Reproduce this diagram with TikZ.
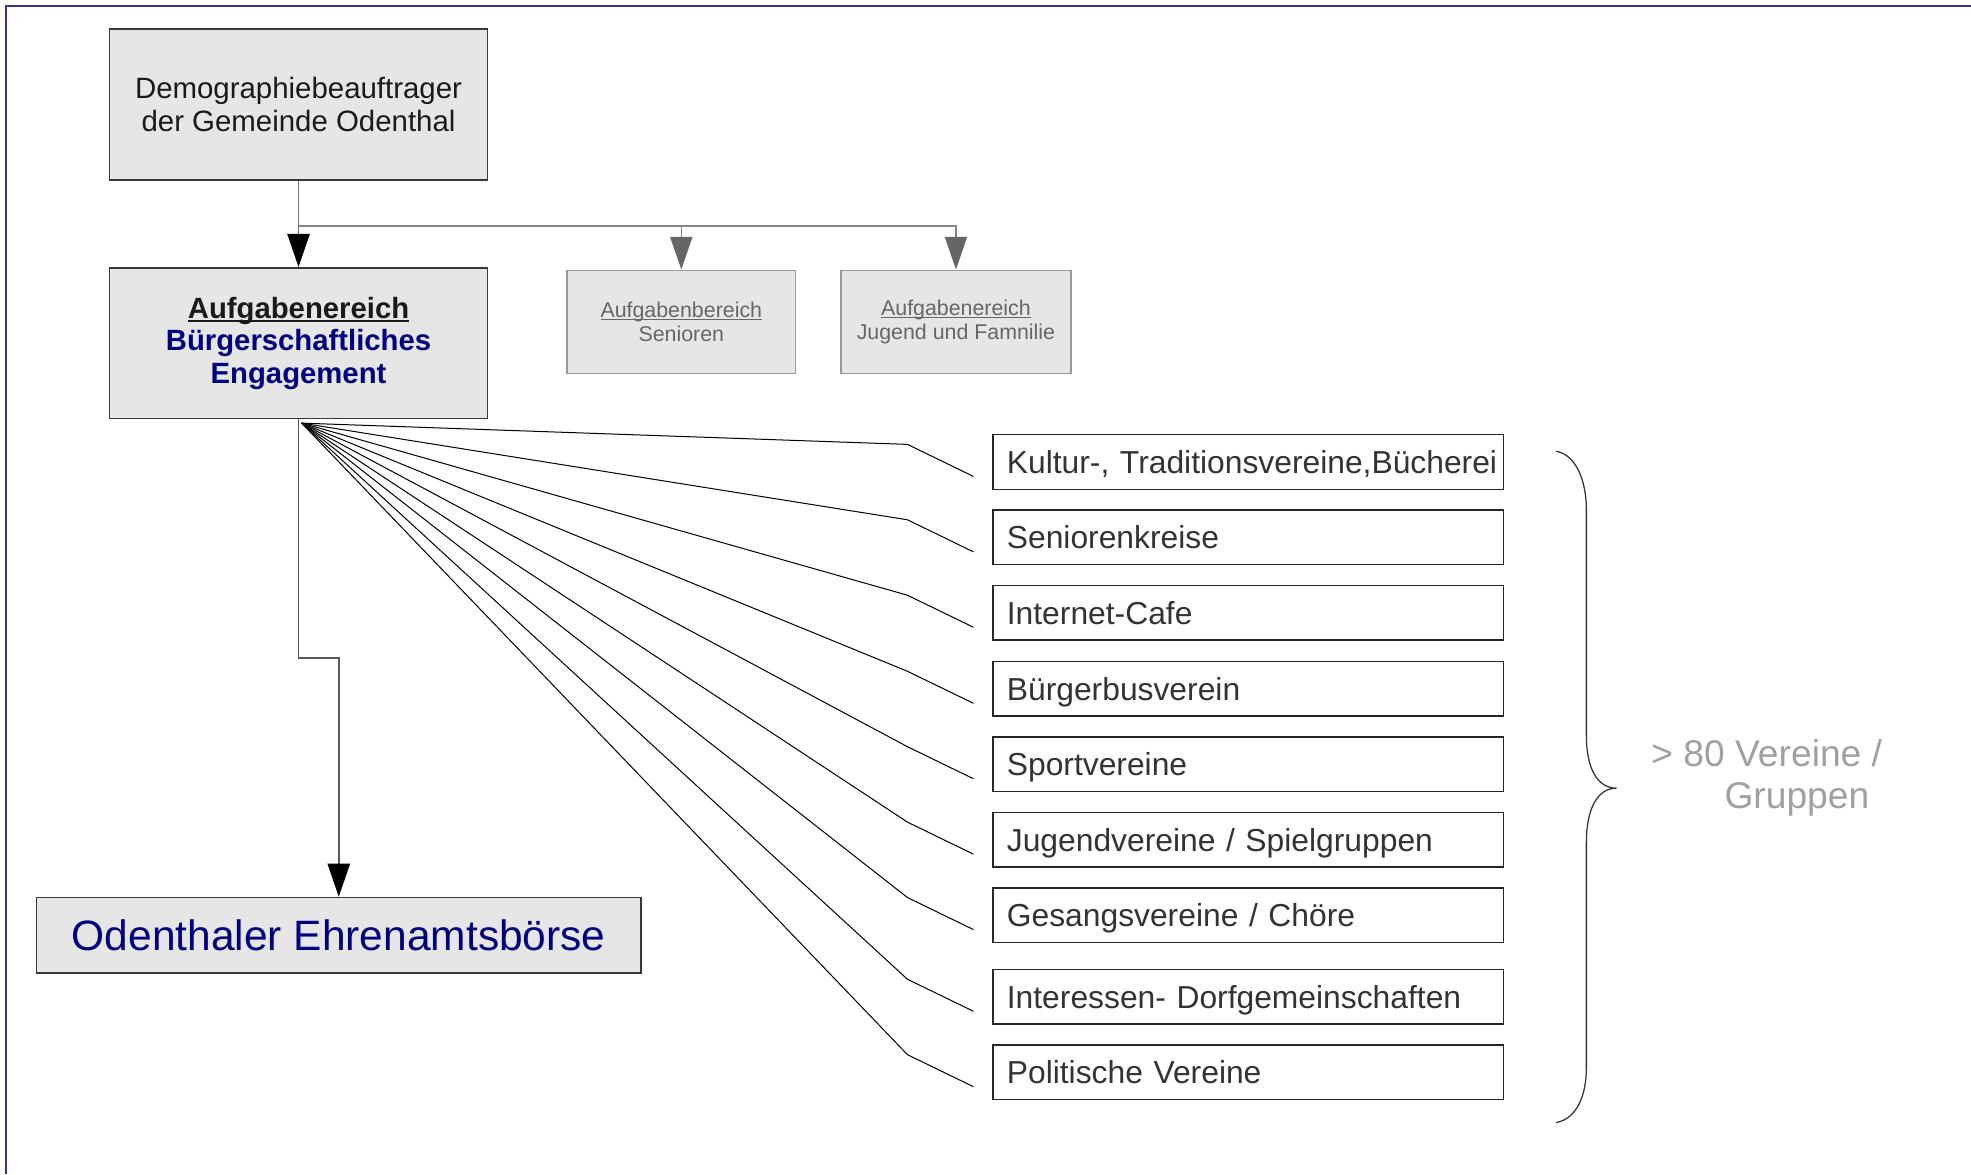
\documentclass[tikz,border=0pt]{standalone}
\usepackage{fontspec}
\setmainfont{Liberation Sans}
\usetikzlibrary{arrows.meta,calc}
\definecolor{framec}{HTML}{3535A0}
\definecolor{boxfill}{HTML}{E6E6E6}
\definecolor{navytext}{HTML}{000080}
\definecolor{darktext}{HTML}{1A1A1A}
\definecolor{itemtext}{HTML}{333333}
\definecolor{subtext}{HTML}{666666}
\definecolor{lbltext}{HTML}{A0A0A0}
\newcommand{\myul}[1]{\setbox0\hbox{#1}\rlap{\copy0}\rule[-0.13em]{\wd0}{0.065em}}
\tikzset{
  mainbox/.style={draw=black!78, fill=boxfill, line width=0.6pt, minimum width=150.5pt, minimum height=60pt, inner sep=0pt, align=center},
  subbox/.style={draw=black!40, fill=boxfill, line width=0.6pt, minimum width=91pt, minimum height=41pt, inner sep=0pt, align=center, text=subtext, font=\fontsize{8.5pt}{9.5pt}\selectfont},
  itembox/.style={draw=black!85, line width=0.6pt, minimum width=203pt, minimum height=21.75pt, text width=192pt, inner xsep=5.5pt, inner ysep=0pt, align=left, text=itemtext, font=\fontsize{12.65pt}{15pt}\selectfont, text height=9.06pt, text depth=0pt},
  bigbox/.style={draw=black!78, fill=boxfill, line width=0.6pt, minimum width=240.5pt, minimum height=30pt, inner sep=0pt, text=navytext, font=\fontsize{16.9pt}{20pt}\selectfont, text height=12.1pt, text depth=0pt},
  lbl/.style={text=lbltext, font=\fontsize{14.8pt}{17pt}\selectfont, inner sep=0pt, anchor=base},
  conn/.style={draw=black!55, line width=0.6pt, -{Triangle[width=8.9pt,length=13.2pt,color=black]}},
  branch/.style={draw=black!48, line width=0.6pt, -{Triangle[width=8.8pt,length=13pt,color=black!60]}},
  fanline/.style={draw=black, line width=0.4pt},
  bracec/.style={draw=black!80, line width=0.5pt}
}
\begin{document}
\begin{tikzpicture}[x=0.5pt,y=-0.5pt]
\useasboundingbox (0,0) rectangle (1568,934);
\draw[framec, line width=0.8pt] (4.8,934) -- (4.8,4.4) -- (1568,4.4);

\node[mainbox, text=darktext, font=\fontsize{11.7pt}{13pt}\selectfont] (b1) at (237.5,83) {Demographiebeauftrager\\der Gemeinde Odenthal};
\node[mainbox, text=darktext, font=\bfseries\fontsize{11.65pt}{13pt}\selectfont] (b2) at (237.5,273) {\myul{Aufgabenereich}\\\textcolor{navytext}{Bürgerschaftliches}\\\textcolor{navytext}{Engagement}};
\node[subbox] (b3) at (542,256) {\myul{Aufgabenbereich}\\Senioren};
\node[subbox, minimum width=91.5pt] (b4) at (760.5,256) {\myul{Aufgabenereich}\\Jugend und Famnilie};
\node[bigbox] (b5) at (269.5,744) {Odenthaler Ehrenamtsbörse};

\node[itembox] (k1) at (993,367.5) {\mbox{Kultur-, Traditionsvereine,Bücherei}};
\node[itembox] (k2) at (993,427.5) {Seniorenkreise};
\node[itembox] (k3) at (993,487.5) {Internet-Cafe};
\node[itembox] (k4) at (993,548) {Bürgerbusverein};
\node[itembox] (k5) at (993,608) {Sportvereine};
\node[itembox] (k6) at (993,668) {Jugendvereine / Spielgruppen};
\node[itembox] (k7) at (993,728) {Gesangsvereine / Chöre};
\node[itembox] (k8) at (993,793) {Interessen- Dorfgemeinschaften};
\node[itembox] (k9) at (993,853) {Politische Vereine};

\node[lbl] (l1) at (1405.5,610) {> 80 Vereine /};
\node[lbl] (l2) at (1429.5,643) {Gruppen};

% connectors
\coordinate (j) at ($(b1.south)+(0,36)$);
\draw[conn] (b1.south) -- (b2.north);
\draw[branch] (j) -| (b3.north);
\draw[branch] (j) -| (b4.north);
\draw[conn, draw=black!65] (b2.south) -- ++(0,190) -| (b5.north);

\coordinate (src) at ($(b2.south)+(2.5,3)$);
\foreach \i in {1,...,9}{
  \draw[fanline] (src) -- ($(k\i.west)+(-67.5,-14)$) -- ($(k\i.west)+(-15,11.5)$);
}

% brace
\draw[bracec] (1238,359) .. controls (1255,362) and (1262,385) .. (1262,405)
  -- (1262,585) .. controls (1262,610) and (1270,627) .. (1286,627)
  .. controls (1270,627) and (1262,645) .. (1262,670)
  -- (1262,850) .. controls (1262,870) and (1255,890) .. (1238,893);
\end{tikzpicture}
\end{document}
